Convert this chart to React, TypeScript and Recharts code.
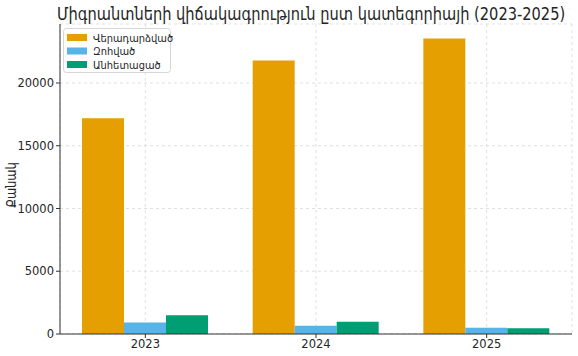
import React from 'react';
import { BarChart, Bar, XAxis, YAxis, CartesianGrid } from 'recharts';

const years = ['2023', '2024', '2025'];
const returned = [17200, 21800, 23550];
const killed = [920, 660, 500];
const missing = [1500, 980, 450];
const yTicks = [0, 5000, 10000, 15000, 20000];

const seriesNames = ['Վերադարձված', 'Զոհված', 'Անհետացած'];
const colors = ['#E69F00', '#56B4E9', '#009E73'];

const data = years.map((year, i) => ({
  year,
  returned: returned[i],
  killed: killed[i],
  missing: missing[i],
}));

const font = '"DejaVu Sans", sans-serif';
// the Armenian glyphs in the reference are narrower than DejaVu's
const titleSqueeze = 0.86;
const labelSqueeze = 0.85;
const legendSqueeze = 0.9;

const App: React.FC = () => {
  return (
    <div style={{ position: 'relative', width: 578, height: 356, fontFamily: font, background: '#fff' }}>
      <style>{'body{margin:0}'}</style>
      <BarChart
        width={578}
        height={356}
        data={data}
        margin={{ top: 24, right: 6, bottom: 0, left: 0 }}
        barGap={0}
        barSize={42}
      >
        <CartesianGrid stroke="#d8d8d8" strokeDasharray="3 3" strokeWidth={0.8} />
        <XAxis
          dataKey="year"
          height={22}
          stroke="#333"
          tickSize={4}
          tick={{ fontSize: 11.5, fill: '#262626', fontFamily: font }}
        />
        <YAxis
          width={60}
          domain={[0, 24700]}
          ticks={yTicks}
          stroke="#333"
          tickSize={4}
          tick={{ fontSize: 11.5, fill: '#262626', fontFamily: font }}
        />
        <Bar dataKey="returned" fill={colors[0]} isAnimationActive={false} />
        <Bar dataKey="killed" fill={colors[1]} isAnimationActive={false} />
        <Bar dataKey="missing" fill={colors[2]} isAnimationActive={false} />
      </BarChart>
      <svg
        width={578}
        height={356}
        style={{ position: 'absolute', left: 0, top: 0, pointerEvents: 'none' }}
        fontFamily={font}
      >
        <text transform={`translate(57,20) scale(${titleSqueeze},1)`} fontSize={17} fill="#262626">
          Միգրանտների վիճակագրություն ըստ կատեգորիայի (2023-2025)
        </text>
        <text
          transform={`translate(16,185) rotate(-90) scale(${labelSqueeze},1)`}
          textAnchor="middle"
          fontSize={13.5}
          fill="#262626"
        >
          Քանակ
        </text>
        <rect x={63.5} y={28.5} width={107} height={44} rx={3} fill="#fff" fillOpacity={0.85} stroke="#d6d6d6" />
        {seriesNames.map((name, i) => (
          <g key={name}>
            <rect x={67} y={34 + i * 13.5} width={20} height={7} fill={colors[i]} />
            <text
              transform={`translate(93,${41.5 + i * 13.5}) scale(${legendSqueeze},1)`}
              fontSize={11}
              fill="#262626"
            >
              {name}
            </text>
          </g>
        ))}
      </svg>
    </div>
  );
};

export default App;
